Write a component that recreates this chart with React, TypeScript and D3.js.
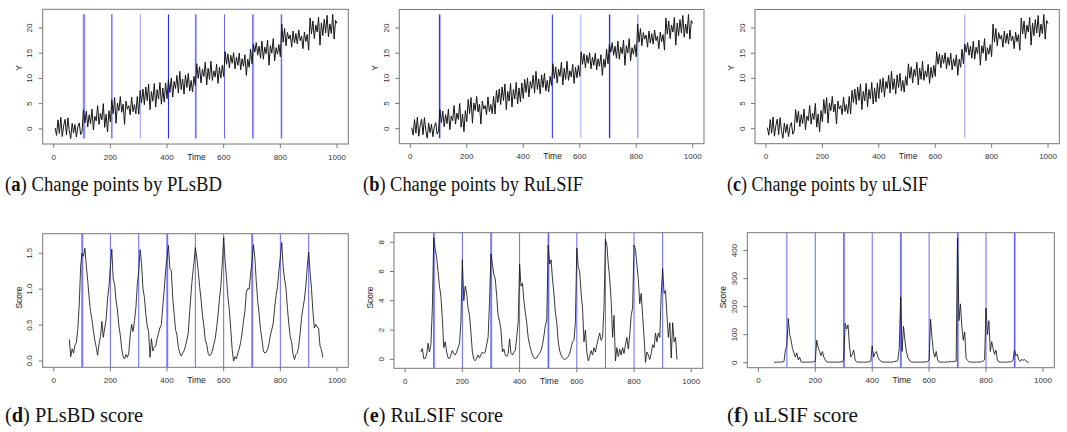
import React from "react";
import * as d3 from "d3";

// observed series Y (sampled every 5 time units, t = 5..1000)
const yValues = [
  0.2, -1.3, 1.8, -0.9, 2.3, -1.5, 0.6, 1.9, -1.2, 2.2, -0.4, -1.9, 1.1, -0.8, 0.9, -1.6, 0.4, 1.2, -1.1, -0.5,
  3.8, 1.2, 3.5, 0.4, 2.8, 1.0, 3.9, -0.2, 2.5, 1.6, 4.6, 0.9, 3.1, 1.8, 5.0, 0.3, 2.9, -0.6, 3.6, 1.4,
  5.8, 3.0, 6.2, 1.1, 5.1, 3.6, 6.4, 3.3, 4.9, 0.9, 5.5, 3.9, 4.6, 2.8, 6.3, 3.4, 4.8, 3.0, 6.4, 2.9,
  7.6, 5.2, 7.9, 4.8, 8.3, 5.6, 8.9, 3.8, 7.4, 5.5, 9.0, 4.3, 7.8, 5.9, 9.2, 4.9, 8.1, 5.3, 9.1, 6.0,
  9.8, 7.2, 10.1, 6.3, 9.4, 8.0, 10.6, 7.1, 11.4, 7.8, 9.9, 6.9, 10.7, 8.2, 11.0, 7.5, 9.6, 7.3, 10.4, 8.6,
  12.9, 10.0, 12.3, 9.1, 11.8, 10.4, 13.2, 8.7, 12.0, 9.8, 13.4, 9.6, 11.5, 10.3, 12.8, 9.0, 12.2, 10.1, 12.6, 10.4,
  15.3, 12.8, 14.9, 12.1, 14.6, 13.0, 15.1, 11.9, 14.2, 12.6, 15.0, 11.7, 13.9, 12.4, 14.7, 10.6, 13.8, 12.2, 15.8, 12.9,
  16.8, 15.2, 17.1, 14.6, 16.4, 14.0, 17.4, 13.8, 16.2, 14.9, 17.6, 12.6, 16.5, 15.0, 17.9, 13.5, 16.1, 14.8, 16.7, 14.3,
  20.8, 17.2, 19.9, 16.5, 19.1, 17.8, 18.6, 16.2, 19.4, 17.0, 18.9, 16.8, 19.6, 17.5, 18.4, 15.9, 19.2, 17.3, 18.7, 15.6,
  22.0, 18.8, 21.4, 17.9, 20.6, 19.2, 22.1, 16.6, 21.0, 18.5, 21.7, 19.0, 22.5, 18.2, 20.8, 18.9, 22.7, 17.8, 21.5, 20.9,
];

// scores, sampled every 5 time units, t = 55..950
const scorePLsBD = [
  0.30, 0.06, 0.17, 0.11, 0.22, 0.26, 0.44, 0.78, 1.32, 1.50,
  1.46, 1.57, 1.33, 1.12, 0.88, 0.69, 0.58, 0.42, 0.29, 0.19,
  0.08, 0.24, 0.34, 0.55, 0.33, 0.46, 0.58, 0.86, 1.04, 1.31,
  1.56, 1.14, 1.07, 0.84, 0.71, 0.49, 0.36, 0.17, 0.06, 0.03,
  0.09, 0.05, 0.11, 0.36, 0.51, 0.41, 0.56, 0.74, 1.06, 1.24,
  1.55, 1.36, 1.01, 0.89, 0.66, 0.49, 0.41, 0.05, 0.31, 0.14,
  0.19, 0.21, 0.31, 0.39, 0.46, 0.51, 0.76, 0.99, 1.26, 1.44,
  1.61, 1.29, 1.26, 0.89, 0.66, 0.44, 0.36, 0.19, 0.11, 0.07,
  0.11, 0.14, 0.21, 0.29, 0.39, 0.69, 0.96, 1.19, 1.36, 1.58,
  1.44, 1.26, 1.04, 0.86, 0.64, 0.49, 0.29, 0.23, 0.11, 0.07,
  0.09, 0.14, 0.23, 0.31, 0.46, 0.64, 0.86, 1.04, 1.36, 1.72,
  1.39, 1.16, 0.89, 0.71, 0.44, 0.16, 0.00, 0.06, 0.03, 0.11,
  0.17, 0.26, 0.39, 0.56, 0.69, 0.96, 1.01, 1.00, 1.21, 1.39,
  1.62, 1.44, 1.11, 0.84, 0.66, 0.44, 0.31, 0.14, 0.11, 0.12,
  0.16, 0.24, 0.36, 0.44, 0.53, 0.74, 0.91, 1.04, 1.26, 1.44,
  1.65, 1.31, 1.14, 1.01, 0.74, 0.51, 0.34, 0.26, 0.09, 0.02,
  0.09, 0.11, 0.21, 0.39, 0.61, 0.74, 0.86, 1.04, 1.31, 1.52,
  1.24, 1.01, 0.69, 0.46, 0.51, 0.47, 0.46, 0.21, 0.16, 0.05,
];

const scoreRuLSIF = [
  0.50, 0.75, 0.05, 0.05, 0.30, 1.10, 0.50, 1.00, 3.50, 8.30,
  7.50, 7.00, 6.00, 5.00, 4.30, 2.80, 0.80, 1.20, 0.50, 0.10,
  0.05, 0.30, 0.60, 0.40, 0.30, 0.50, 0.80, 1.10, 2.60, 6.80,
  4.00, 5.00, 4.50, 3.50, 3.00, 1.80, 0.50, 0.00, -0.10, 0.10,
  0.30, 0.10, 0.30, 0.50, 0.40, 0.50, 1.00, 1.50, 4.00, 7.20,
  6.50, 5.80, 5.50, 4.30, 3.00, 2.60, 2.00, 0.50, 0.70, 0.30,
  0.20, 0.40, 1.40, 0.40, 0.30, 0.50, 0.60, 1.50, 2.50, 6.50,
  5.00, 5.20, 4.00, 3.20, 2.50, 1.50, 1.00, 0.60, 0.30, 0.10,
  0.05, 0.10, 0.30, 0.40, 0.60, 1.00, 1.60, 2.30, 2.70, 7.80,
  6.50, 6.80, 5.50, 4.50, 3.20, 2.50, 1.20, 0.60, 0.30, 0.10,
  0.00, 0.00, 0.10, 0.20, 0.40, 0.80, 1.20, 1.30, 2.50, 7.60,
  6.30, 6.00, 4.50, 3.50, 1.20, 2.00, 0.50, -0.10, 0.20, 0.60,
  0.30, 0.80, 0.50, 1.00, 1.40, 1.80, 1.30, 1.50, 3.50, 8.20,
  7.80, 6.50, 5.50, 4.00, 1.50, 3.00, -0.10, 0.80, 0.20, 0.70,
  0.30, 0.80, 0.40, 1.00, 1.50, 0.70, 1.70, 3.00, 3.50, 7.80,
  7.50, 6.50, 5.50, 3.80, 4.50, 3.00, 1.50, -0.20, 0.50, 0.30,
  0.00, 0.40, 1.00, 0.80, 1.80, 1.20, 1.80, 1.50, 4.50, 6.20,
  4.50, 4.70, 3.00, 1.50, 2.50, 0.10, 2.50, 1.20, 1.50, 0.00,
];

const scoreULSIF = [
  2, 2, 2, 2, 2, 3, 3, 4, 45, 60,
  158, 100, 80, 50, 35, 20, 35, 10, 20, 3,
  2, 2, 2, 2, 2, 2, 2, 3, 3, 5,
  80, 55, 40, 25, 40, 20, 10, 3, 2, 2,
  2, 2, 2, 2, 2, 2, 2, 3, 3, 10,
  140, 120, 135, 60, 20, 30, 45, 10, 3, 2,
  2, 2, 2, 2, 2, 2, 3, 3, 5, 60,
  20, 35, 40, 20, 10, 6, 3, 2, 2, 2,
  2, 2, 2, 2, 3, 5, 4, 10, 50, 235,
  40, 130, 80, 40, 20, 10, 4, 2, 2, 2,
  2, 2, 2, 2, 2, 2, 3, 3, 4, 10,
  155, 90, 40, 20, 40, 10, 3, 2, 2, 2,
  2, 2, 2, 3, 5, 3, 5, 4, 6, 445,
  150, 210, 130, 80, 110, 15, 8, 3, 2, 2,
  2, 2, 2, 2, 2, 3, 4, 6, 10, 195,
  100, 150, 40, 75, 50, 30, 45, 10, 3, 2,
  2, 2, 2, 2, 2, 3, 3, 4, 10, 45,
  25, 30, 10, 5, 12, 8, 12, 6, 3, 1,
];

const xTicks = [0, 200, 400, 600, 800, 1000];
const yTicksY = [0, 5, 10, 15, 20];
const yTicksPLsBD = [0, 0.5, 1, 1.5];
const yTicksRuLSIF = [0, 2, 4, 6, 8];
const yTicksULSIF = [0, 100, 200, 300, 400];

// detected change points: [time, opacity of the blue line]
const cpPLsBD = [[104, 0.35], [106, 0.35], [108, 0.35], [110, 0.25], [205, 0.6], [206, 0.3], [305, 0.25], [306, 0.2], [405, 0.9], [500, 0.5], [502, 0.3], [504, 0.25], [603, 0.6], [702, 0.5], [704, 0.3], [706, 0.25], [803, 0.5], [805, 0.5]];
const cpRuLSIF = [[103, 0.8], [105, 0.7], [503, 0.85], [604, 0.35], [705, 0.85], [707, 0.5], [805, 0.35], [807, 0.2]];
const cpULSIF = [[705, 0.4]];
const trueCpD = [[100, 0.35], [200, 0.6], [300, 0.6], [400, 0.35], [500, 0.6], [600, 0.6], [700, 0.35], [800, 0.6], [900, 0.6]];
const trueCpE = [[100, 0.35], [200, 0.6], [300, 0.35], [400, 0.6], [500, 0.35], [600, 0.6], [700, 0.6], [800, 0.6], [900, 0.6]];
const trueCpF = [[100, 0.6], [200, 0.6], [300, 0.35], [400, 0.6], [500, 0.35], [600, 0.6], [700, 0.35], [800, 0.6], [900, 0.35]];

const X_DOMAIN = [1 - 0.04 * 999, 1000 + 0.04 * 999];
const yTimes = yValues.map((_, i) => 5 * (i + 1));
const scoreTimes = scorePLsBD.map((_, i) => 55 + 5 * i);

type Box = { l: number; r: number; t: number; b: number };

function Panel({ box, times, values, yDomain, yTicks, yFmt, yLabel, cps, band, dataSpan }: any) {
  const x = d3.scaleLinear().domain(X_DOMAIN).range([box.l, box.r]);
  const y = d3.scaleLinear().domain(yDomain).range([box.b, box.t]);
  const line = d3
    .line<number>()
    .x((_, i) => x(times[i]))
    .y((v) => y(v));
  const ext = d3.extent(values) as [number, number];
  const y0 = dataSpan ? y(ext[0]) : box.b;
  const y1 = dataSpan ? y(ext[1]) : box.t;
  const cx = (box.l + box.r) / 2;
  const cy = (box.t + box.b) / 2;

  const cpLines: any[] = [];
  cps.forEach(([t, a]: number[], i: number) => {
    if (band && a < 0.5) {
      // wide, pale detection band
      [-1, 1, 3].forEach((o) =>
        cpLines.push(<line key={i + "_" + o} x1={x(t + o)} x2={x(t + o)} y1={y0} y2={y1} stroke="rgb(0,0,255)" strokeOpacity={0.3} strokeWidth={1} />)
      );
      cpLines.push(<line key={i + "c"} x1={x(t)} x2={x(t)} y1={y0} y2={y1} stroke="rgb(0,0,255)" strokeOpacity={0.35} strokeWidth={1} />);
    } else {
      cpLines.push(<line key={i} x1={x(t)} x2={x(t)} y1={y0} y2={y1} stroke="rgb(0,0,255)" strokeOpacity={a} strokeWidth={1} />);
    }
  });

  return (
    <g>
      {cpLines}
      <path d={line(values) || ""} fill="none" stroke="#151515" strokeWidth={dataSpan ? 1 : 0.85} strokeLinejoin="round" />
      <rect x={box.l} y={box.t} width={box.r - box.l} height={box.b - box.t} fill="none" stroke="#777" strokeWidth={1} />
      {xTicks.map((t) => (
        <g key={"x" + t}>
          <line x1={x(t)} x2={x(t)} y1={box.b} y2={box.b + 4} stroke="#777" />
          <text x={x(t)} y={box.b + 13} textAnchor="middle" dominantBaseline="central" fontSize={8} fill="#333">
            {t}
          </text>
        </g>
      ))}
      {yTicks.map((t: number) => (
        <g key={"y" + t}>
          <line x1={box.l - 4} x2={box.l} y1={y(t)} y2={y(t)} stroke="#777" />
          <text
            transform={`translate(${box.l - 13},${y(t)}) rotate(-90)`}
            textAnchor="middle"
            dominantBaseline="central"
            fontSize={8}
            fill="#333"
          >
            {yFmt(t)}
          </text>
        </g>
      ))}
      <text x={cx + 1} y={box.b + 12.5} textAnchor="middle" dominantBaseline="central" fontSize={8.5} fill="#222">
        Time
      </text>
      <text
        transform={`translate(${box.l - 24},${dataSpan ? 68 : cy - 3}) rotate(-90)`}
        textAnchor="middle"
        dominantBaseline="central"
        fontSize={8.5}
        fill="#222"
      >
        {yLabel}
      </text>
    </g>
  );
}

const captions = [
  { x: 5, y: 191, w: 217, tag: "a", text: " Change points by PLsBD" },
  { x: 363, y: 191, w: 220, tag: "b", text: " Change points by RuLSIF" },
  { x: 727, y: 191, w: 201, tag: "c", text: " Change points by uLSIF" },
  { x: 5, y: 422, w: 138, tag: "d", text: " PLsBD score" },
  { x: 363, y: 422, w: 140, tag: "e", text: " RuLSIF score" },
  { x: 727, y: 422, w: 131, tag: "f", text: " uLSIF score" },
];

export default function App() {
  const top = [-2.99, 23.69];
  const intFmt = (v: number) => String(v);
  const oneDec = (v: number) => v.toFixed(1);
  const boxes: Box[] = [
    { l: 42.7, r: 348.3, t: 9.3, b: 144 },
    { l: 399.3, r: 704, t: 9.5, b: 143.7 },
    { l: 755, r: 1059.3, t: 9.5, b: 143.7 },
    { l: 42.7, r: 348.3, t: 233.7, b: 367.3 },
    { l: 394, r: 702.7, t: 232.7, b: 368.3 },
    { l: 747.3, r: 1054.3, t: 232.7, b: 367.7 },
  ];
  return (
    <svg
      width={1067}
      height={432}
      style={{ position: "absolute", left: 0, top: 0, background: "#fff" }}
      fontFamily="'Liberation Sans', Arial, sans-serif"
    >
      <Panel box={boxes[0]} times={yTimes} values={yValues} yDomain={top} yTicks={yTicksY} yFmt={intFmt} yLabel="Y" cps={cpPLsBD} dataSpan />
      <Panel box={boxes[1]} times={yTimes} values={yValues} yDomain={top} yTicks={yTicksY} yFmt={intFmt} yLabel="Y" cps={cpRuLSIF} dataSpan />
      <Panel box={boxes[2]} times={yTimes} values={yValues} yDomain={top} yTicks={yTicksY} yFmt={intFmt} yLabel="Y" cps={cpULSIF} dataSpan />
      <Panel box={boxes[3]} times={scoreTimes} values={scorePLsBD} yDomain={[-0.088, 1.773]} yTicks={yTicksPLsBD} yFmt={oneDec} yLabel="Score" cps={trueCpD} band />
      <Panel box={boxes[4]} times={scoreTimes} values={scoreRuLSIF} yDomain={[-0.61, 8.65]} yTicks={yTicksRuLSIF} yFmt={intFmt} yLabel="Score" cps={trueCpE} band />
      <Panel box={boxes[5]} times={scoreTimes} values={scoreULSIF} yDomain={[-17.9, 464]} yTicks={yTicksULSIF} yFmt={intFmt} yLabel="Score" cps={trueCpF} band />
      {captions.map((c) => (
        <text
          key={c.tag}
          x={c.x}
          y={c.y}
          fontFamily="'Liberation Serif', serif"
          fontSize={20}
          fill="#111"
          textLength={c.w}
          lengthAdjust="spacingAndGlyphs"
        >
          (<tspan fontWeight="bold">{c.tag}</tspan>){c.text}
        </text>
      ))}
    </svg>
  );
}
